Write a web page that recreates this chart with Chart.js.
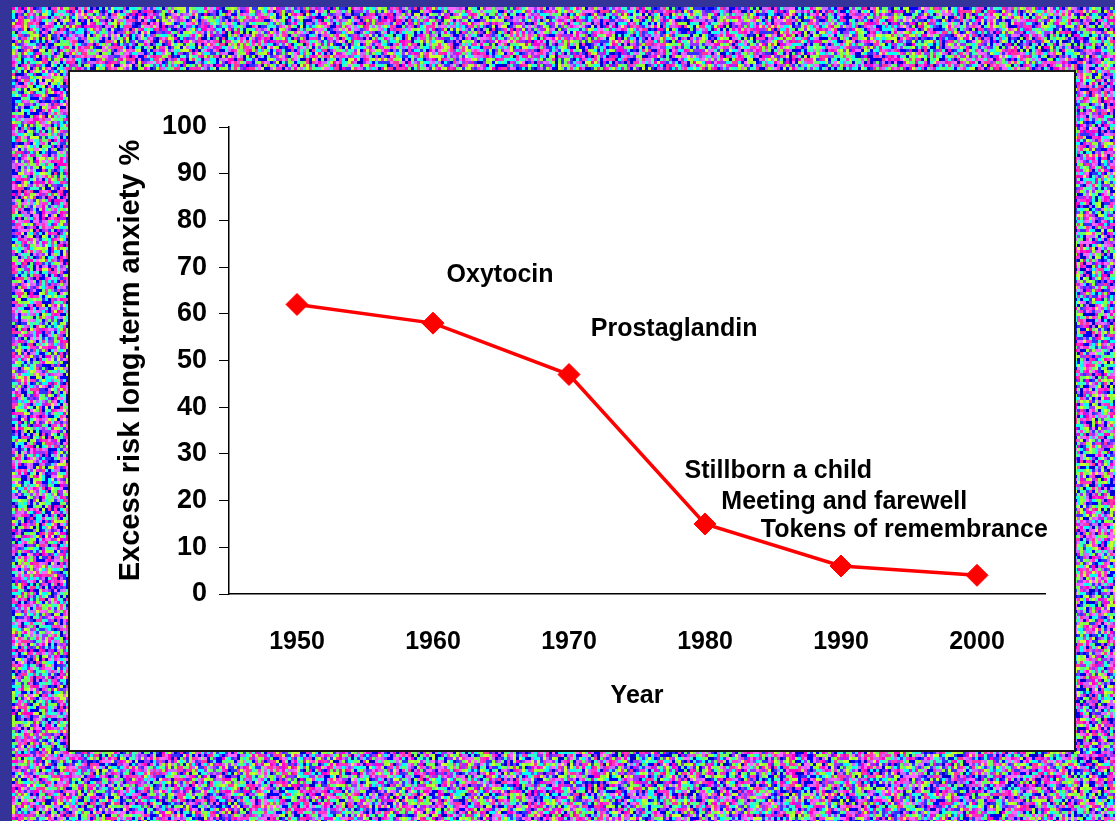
<!DOCTYPE html>
<html><head><meta charset="utf-8">
<script src="https://cdn.jsdelivr.net/npm/chart.js"></script>
<style>
html,body{margin:0;padding:0;background:#333399;overflow:hidden;width:1115px;height:821px;}
#bgwrap{position:absolute;left:12px;top:7px;width:1103px;height:814px;overflow:hidden;}
#bg{position:absolute;left:0;top:0;filter:blur(0.6px);}
#panel{position:absolute;left:68px;top:70px;width:1004px;height:678px;background:#fff;border:2px solid #1a1a1a;}
#chart{position:absolute;left:0;top:0;}
</style></head><body>
<div id="bgwrap"><canvas id="bg" width="1103" height="814"></canvas></div>
<div id="panel"></div>
<canvas id="chart" width="1115" height="821"></canvas>
<script>
// ---- data ----
const years = ['1950', '1960', '1970', '1980', '1990', '2000'];
const anxiety = [62, 58, 47, 15, 6, 4];
const yTickValues = [0, 10, 20, 30, 40, 50, 60, 70, 80, 90, 100];
const noteTexts = ['Oxytocin', 'Prostaglandin', 'Stillborn a child', 'Meeting and farewell', 'Tokens of remembrance'];
// anchor of each note in axis units (category index, y value)
const noteAnchorX = [1.10, 2.16, 2.85, 3.12, 3.41];
const noteAnchorY = [68.3, 56.8, 26.4, 19.7, 13.7];

// ---- decorative textured background (deterministic hash) ----
(function(){
  const c = document.getElementById('bg');
  const ctx = c.getContext('2d');
  const W = c.width, H = c.height;
  const img = ctx.createImageData(W, H);
  const pal = [[255,0,204],[255,51,153],[204,255,51],[153,255,51],[0,0,255],[51,51,255],
               [51,255,204],[0,255,255],[153,51,255],[255,102,255],[102,255,102],[204,102,255],[0,0,204],[255,51,204]];
  function hash(x, y){
    let h = Math.imul(x, 374761393) + Math.imul(y, 668265263);
    h = Math.imul(h ^ (h >>> 13), 1274126177);
    h = h ^ (h >>> 16);
    return (h >>> 0) / 4294967296;
  }
  for (let y = 0; y < H; y++) {
    for (let x = 0; x < W; x++) {
      const bx = Math.floor(x / 3), by = Math.floor(y / 3);
      const r = hash(bx, by);
      const col = pal[Math.floor(r * pal.length)];
      const i = (y * W + x) * 4;
      img.data[i] = col[0]; img.data[i+1] = col[1]; img.data[i+2] = col[2]; img.data[i+3] = 255;
    }
  }
  ctx.putImageData(img, 0, 0);
})();

// ---- notes plugin ----
const notesPlugin = {
  id: 'notes',
  afterDatasetsDraw(chart) {
    const ctx = chart.ctx;
    const xs = chart.scales.x, ys = chart.scales.y;
    ctx.save();
    ctx.font = 'bold 25px "Liberation Sans", Arial, sans-serif';
    ctx.fillStyle = '#000';
    ctx.textAlign = 'left';
    ctx.textBaseline = 'middle';
    noteTexts.forEach((t, i) => {
      ctx.fillText(t, xs.getPixelForValue(noteAnchorX[i]), ys.getPixelForValue(noteAnchorY[i]));
    });
    ctx.restore();
  }
};

new Chart(document.getElementById('chart'), {
  type: 'line',
  data: {
    labels: years,
    datasets: [{
      data: anxiety,
      borderColor: '#ff0000',
      borderWidth: 3.5,
      backgroundColor: '#ff0000',
      pointStyle: 'rectRot',
      pointRadius: 11,
      pointBackgroundColor: '#ff0000',
      pointBorderColor: '#ff0000',
      pointBorderWidth: 1,
      tension: 0,
      clip: false
    }]
  },
  options: {
    responsive: false,
    animation: false,
    events: [],
    layout: { padding: { left: 100, top: 127, right: 70, bottom: 0 } },
    plugins: { legend: { display: false }, tooltip: { enabled: false } },
    scales: {
      x: {
        offset: true,
        grid: { display: false, drawTicks: false },
        border: { display: true, color: '#000', width: 1.5 },
        ticks: {
          color: '#000', padding: 33, maxRotation: 0, autoSkip: false,
          font: { family: '"Liberation Sans", Arial', size: 25, weight: 'bold' }
        },
        title: {
          display: true, text: 'Year', color: '#000',
          font: { family: '"Liberation Sans", Arial', size: 25, weight: 'bold' },
          padding: { top: 0, bottom: 110 }
        },
        afterFit(s) { s.height = 227; }
      },
      y: {
        min: 0, max: 100,
        afterBuildTicks(s) { s.ticks = yTickValues.map(v => ({ value: v })); },
        grid: { drawOnChartArea: false, drawTicks: true, tickLength: 10, color: '#000', lineWidth: 1 },
        border: { display: true, color: '#000', width: 1.5 },
        ticks: {
          color: '#000', padding: 12,
          font: { family: '"Liberation Sans", Arial', size: 27, weight: 'bold' }
        },
        title: {
          display: true, text: 'Excess risk long.term anxiety %', color: '#000',
          font: { family: '"Liberation Sans", Arial', size: 29, weight: 'bold' },
          padding: { top: 14, bottom: 0 }
        },
        afterFit(s) { s.width = 129; }
      }
    }
  },
  plugins: [notesPlugin]
});
</script>
</body></html>
